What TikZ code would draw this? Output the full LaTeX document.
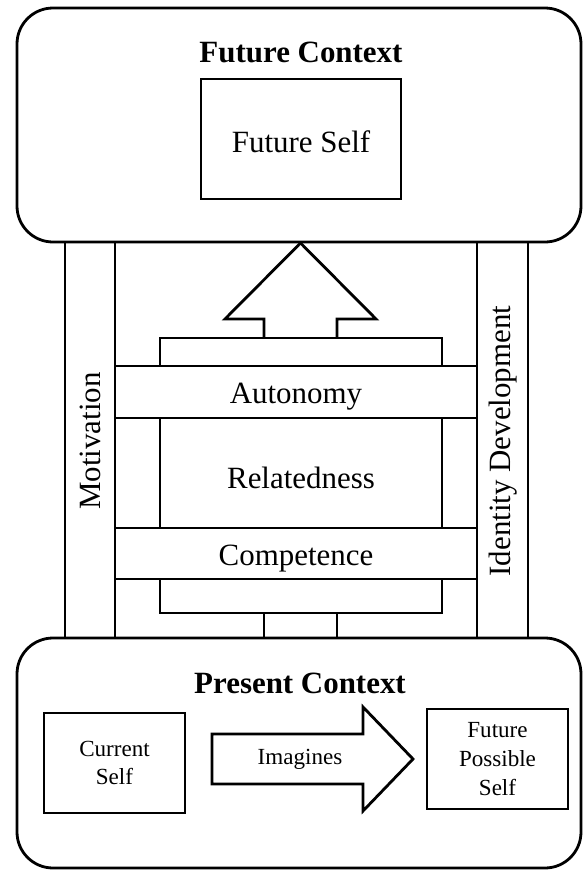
\documentclass[tikz,border=0pt]{standalone}
\usepackage{fontspec}
\setmainfont{Liberation Serif}
\begin{document}
\begin{tikzpicture}[x=0.75pt,y=-0.75pt,
  line/.style={line width=2.1pt, line join=miter},
  ctx/.style={line width=2.1pt, rounded corners=27pt, fill=white},
  bigtxt/.style={font=\fontsize{23.2}{28}\selectfont, inner sep=0pt},
  titletxt/.style={font=\fontsize{23.2}{28}\selectfont\bfseries, inner sep=0pt},
  smalltxt/.style={font=\fontsize{17.3}{21.5}\selectfont, inner sep=0pt, align=center}]
\useasboundingbox (0,0) rectangle (582,871);
% pillars
\draw[line] (65,242) rectangle (115,638);
\draw[line] (477,242) rectangle (528,638);
% bars and inner boxes
\draw[line] (160,366) -- (160,338) -- (442,338) -- (442,366);
\draw[line] (115,366) rectangle (477,418);
\draw[line] (160,418) -- (160,528);
\draw[line] (442,418) -- (442,528);
\draw[line] (115,528) rectangle (477,579);
\draw[line] (160,579) -- (160,613) -- (442,613) -- (442,579);
% stem at bottom
\draw[line] (264,613) -- (264,638);
\draw[line] (337,613) -- (337,638);
% up arrow
\draw[line] (264,338) -- (264,319) -- (225,319) -- (300.5,243) -- (376,319) -- (337,319) -- (337,338);
% context boxes
\draw[ctx] (17,8) rectangle (581,242);
\draw[ctx] (17,638) rectangle (581,868);
% future context
\node[titletxt, anchor=base] (fctx) at (301,62) {Future Context};
\draw[line] (201,79) rectangle (401,199);
\node[bigtxt, anchor=base] (fself) at (301,152) {Future Self};
% middle labels
\node[bigtxt, anchor=base] (aut) at (296,403) {Autonomy};
\node[bigtxt, anchor=base] (rel) at (301,488) {Relatedness};
\node[bigtxt, anchor=base] (comp) at (296,565) {Competence};
\node[bigtxt, rotate=90] (mot) at (90,441) {Motivation};
\node[bigtxt, rotate=90] (idd) at (503,441) {Identity Development};
% present context
\node[titletxt, anchor=base] (pctx) at (300,693) {Present Context};
\draw[line] (44,713) rectangle (185,813);
\node[smalltxt] (cself) at (114.5,763) {Current\\Self};
\draw[line] (212,734) -- (363,734) -- (363,707) -- (413,759) -- (363,811) -- (363,784) -- (212,784) -- cycle;
\node[smalltxt] (imag) at (300,759) {Imagines};
\draw[line] (427,709) rectangle (568,809);
\node[smalltxt] (fps) at (497.5,759) {Future\\Possible\\Self};
\end{tikzpicture}
\end{document}
